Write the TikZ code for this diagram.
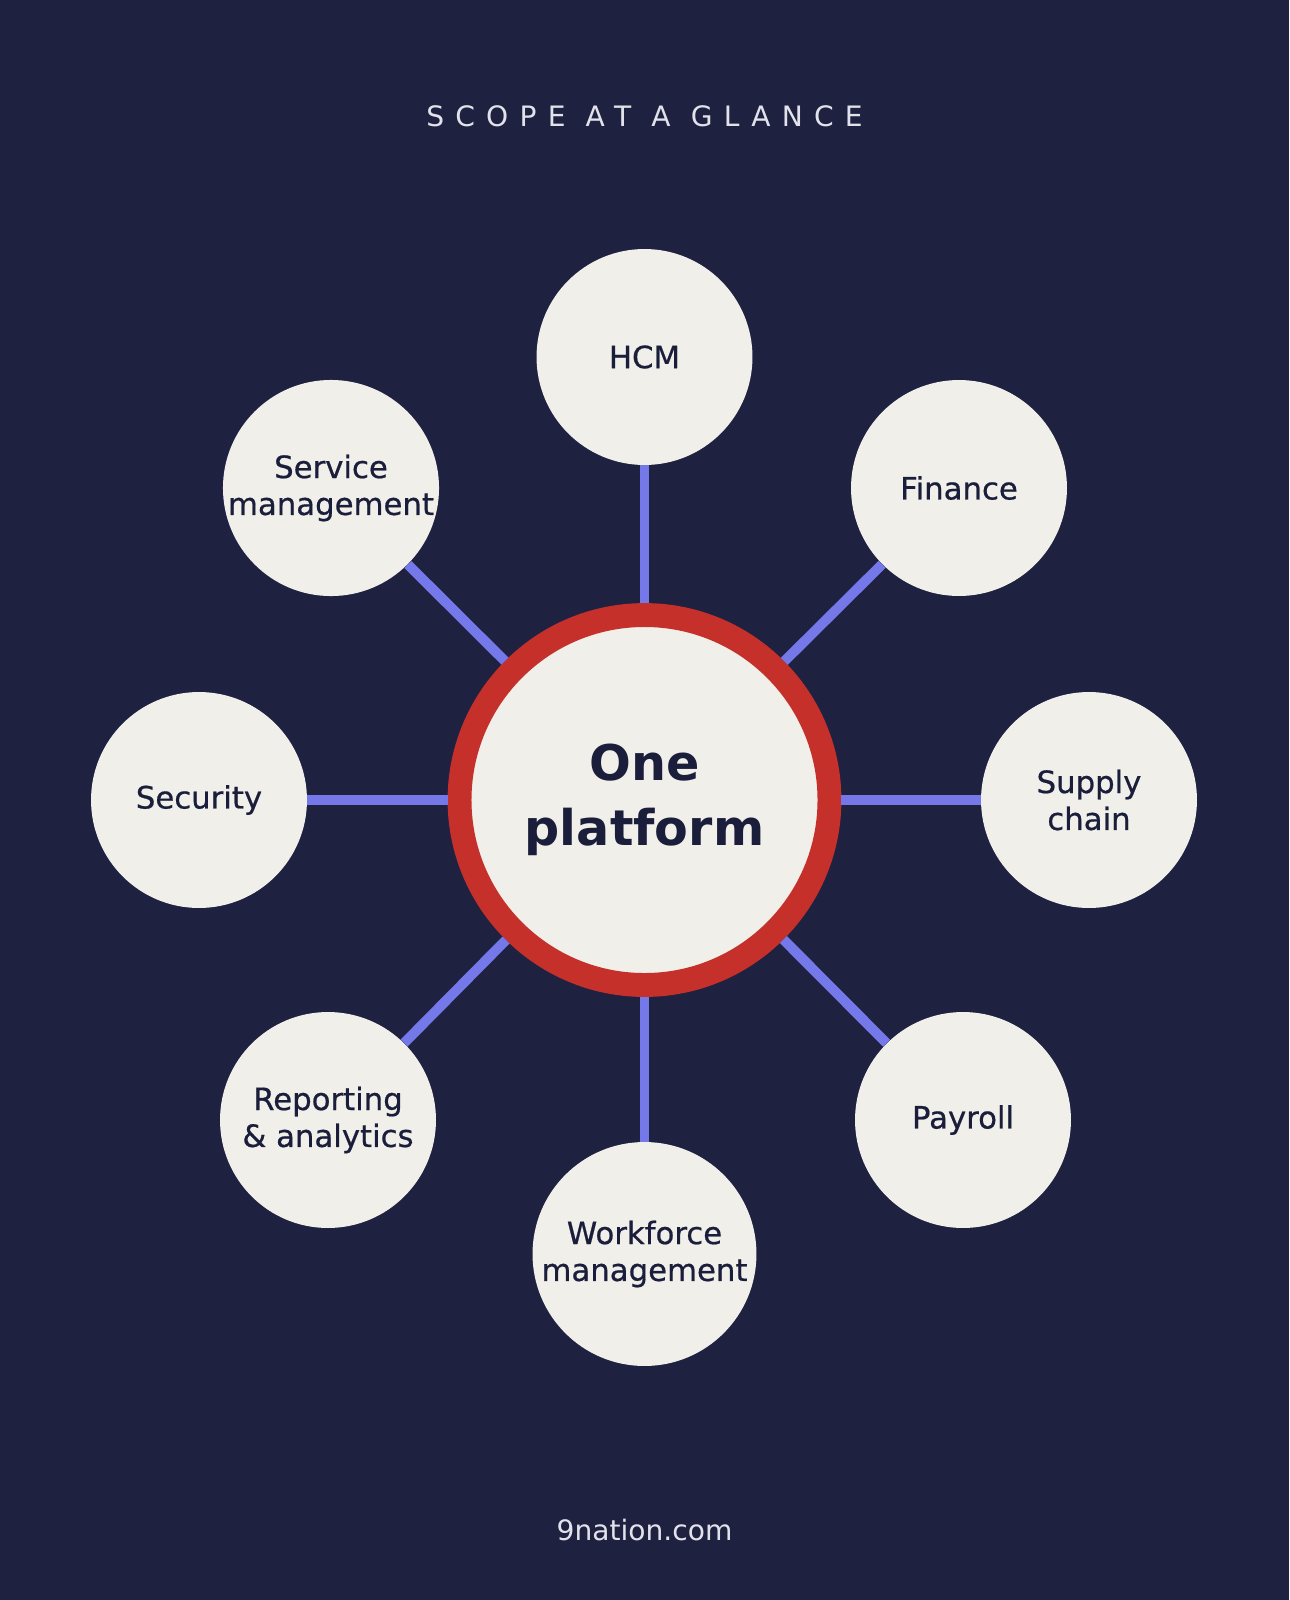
\documentclass[tikz,border=0pt]{standalone}
\usepackage{fontspec}
\setmainfont{DejaVu Sans}
\newfontfamily\labelfont[FakeBold=0.6]{DejaVu Sans}
\usepackage{xcolor}
\definecolor{navybg}{HTML}{1F2141}
\definecolor{paper}{HTML}{F0EFEA}
\definecolor{ink}{HTML}{1B1E3B}
\definecolor{ringred}{HTML}{C6302B}
\definecolor{spokeblue}{HTML}{7478E8}
\definecolor{caption}{HTML}{E2E3EA}
\tikzset{
    module/.style={
        circle,
        fill=paper,
        text=ink,
        minimum size=4.32cm,
        inner sep=0pt,
        align=center,
        font=\labelfont\fontsize{17.5}{21}\selectfont
    },
    hub/.style={
        circle,
        draw=ringred,
        line width=13.6pt,
        fill=paper,
        text=ink,
        minimum size=7.4cm,
        inner sep=0pt,
        align=center,
        font=\bfseries\fontsize{28}{37}\selectfont
    },
    spoke/.style={
        draw=spokeblue,
        line width=5.67pt
    }
}

\begin{document}
\begin{tikzpicture}[x=0.02cm, y=-0.02cm]
    \fill[navybg] (0,0) rectangle (1289,1600);
    \useasboundingbox (0,0) rectangle (1289,1600);

    \node[text=caption, font=\fontsize{16}{19}\selectfont] (title) at (644.5,116)
        {\addfontfeature{LetterSpace=40}SCOPE AT A GLANCE};

    \node[hub] (hub) at (644.5,800) {One\\platform};

    \node[module] (hcm) at (644.5,357) {HCM};
    \node[module] (fin) at (959,488) {Finance};
    \node[module] (sup) at (1089,800) {Supply\\chain};
    \node[module] (pay) at (963,1120) {Payroll};
    \node[module, minimum size=4.48cm] (wfm) at (644.5,1254) {Workforce\\management};
    \node[module] (rep) at (328,1120) {Reporting\\\& analytics};
    \node[module] (sec) at (199,800) {Security};
    \node[module] (svc) at (331,488) {Service\\management};

    \draw[spoke] (hub) -- (hcm);
    \draw[spoke] (hub) -- (fin);
    \draw[spoke] (hub) -- (sup);
    \draw[spoke] (hub) -- (pay);
    \draw[spoke] (hub) -- (wfm);
    \draw[spoke] (hub) -- (rep);
    \draw[spoke] (hub) -- (sec);
    \draw[spoke] (hub) -- (svc);

    \node[text=caption, font=\fontsize{16}{19}\selectfont] (site) at (644.5,1530) {9nation.com};
\end{tikzpicture}
\end{document}
